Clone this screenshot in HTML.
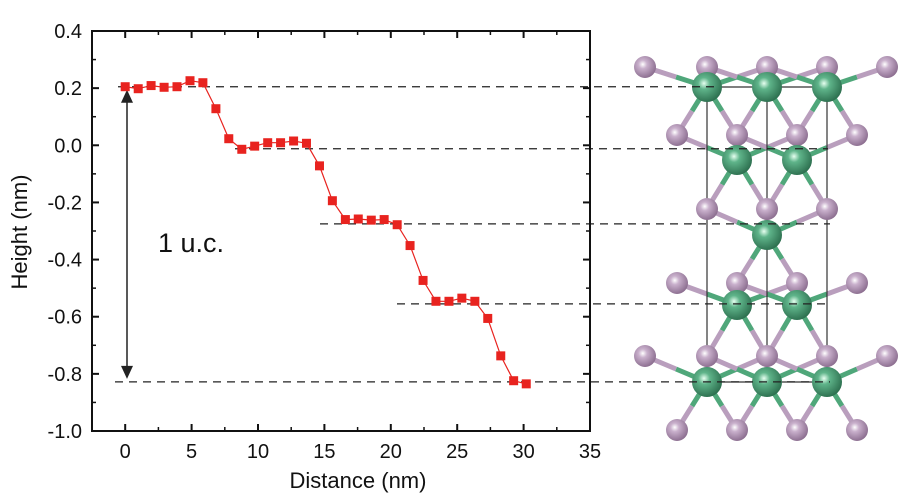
<!DOCTYPE html>
<html><head><meta charset="utf-8"><style>
html,body{margin:0;padding:0;background:#fff;}
svg{display:block;font-family:"Liberation Sans",Arial,sans-serif;}
</style></head><body>
<svg id="chart" width="902" height="497" viewBox="0 0 902 497" xmlns="http://www.w3.org/2000/svg">
<g id="structure"></g>
<g id="dashes"></g>
<g id="axes"></g>
<g id="series"></g>
<text x="158" y="252" font-size="27" fill="#111">1 u.c.</text>
<text x="358" y="488" font-size="22" text-anchor="middle" fill="#111">Distance (nm)</text>
<text transform="translate(27,232) rotate(-90)" font-size="22" text-anchor="middle" fill="#111">Height (nm)</text>
</svg>
<script>
const distances = [0,0.98,1.95,2.93,3.9,4.88,5.85,6.83,7.8,8.78,9.75,10.73,11.7,12.68,13.65,14.63,15.6,16.58,17.55,18.53,19.5,20.48,21.45,22.43,23.4,24.38,25.35,26.33,27.3,28.28,29.25,30.2];
const heights = [0.205,0.198,0.209,0.203,0.205,0.226,0.219,0.128,0.023,-0.014,-0.003,0.009,0.009,0.015,0.007,-0.072,-0.194,-0.26,-0.258,-0.262,-0.26,-0.278,-0.351,-0.473,-0.546,-0.546,-0.535,-0.546,-0.606,-0.737,-0.824,-0.835];
const xTicks = [0,5,10,15,20,25,30,35];
const yTicks = [0.4,0.2,0.0,-0.2,-0.4,-0.6,-0.8,-1.0];
const yTickLabels = ["0.4","0.2","0.0","-0.2","-0.4","-0.6","-0.8","-1.0"];
const stepLevels = [0.205,-0.012,-0.275,-0.555,-0.828];

const NS="http://www.w3.org/2000/svg";
const X0=92,X1=590,Y0=31,Y1=431;
const xMin=-2.5,xMax=35,yMin=-1.0,yMax=0.4;
function sx(v){return X0+(v-xMin)/(xMax-xMin)*(X1-X0);}
function sy(v){return Y1-(v-yMin)/(yMax-yMin)*(Y1-Y0);}
function mk(tag,attrs,parent){const e=document.createElementNS(NS,tag);for(const k in attrs)e.setAttribute(k,attrs[k]);parent.appendChild(e);return e;}

// structure
const st=document.getElementById('structure');
const rows=[
 {y:67,t:'S',xs:[645,707,767,827,887]},
 {y:87,t:'M',xs:[707,767,827]},
 {y:135,t:'S',xs:[677,737,797,857]},
 {y:160,t:'M',xs:[737,797]},
 {y:209,t:'S',xs:[707,767,827]},
 {y:235,t:'M',xs:[767]},
 {y:283,t:'S',xs:[677,737,797,857]},
 {y:305,t:'M',xs:[737,797]},
 {y:356,t:'S',xs:[645,707,767,827,887]},
 {y:382,t:'M',xs:[707,767,827]},
 {y:430,t:'S',xs:[677,737,797,857]}
];
const atoms=[];rows.forEach(r=>r.xs.forEach(x=>atoms.push({x:x,y:r.y,t:r.t})));
const defs=mk('defs',{},st);
const gS=mk('radialGradient',{id:'gS',cx:'0.4',cy:'0.38',r:'0.65'},defs);
mk('stop',{offset:'0','stop-color':'#ffffff'},gS);mk('stop',{offset:'0.3','stop-color':'#c9b0cc'},gS);mk('stop',{offset:'1','stop-color':'#8a6c8e'},gS);
const gM=mk('radialGradient',{id:'gM',cx:'0.4',cy:'0.38',r:'0.65'},defs);
mk('stop',{offset:'0','stop-color':'#e6fff0'},gM);mk('stop',{offset:'0.3','stop-color':'#5fb48a'},gM);mk('stop',{offset:'1','stop-color':'#2c6e4e'},gM);
// bonds
atoms.filter(a=>a.t==='M').forEach(m=>{
 atoms.filter(a=>a.t==='S').forEach(s=>{
  const d=Math.hypot(s.x-m.x,s.y-m.y);
  if(d<80 && Math.abs(s.y-m.y)<80){
   const mx=(s.x+m.x)/2,my=(s.y+m.y)/2;
   mk('line',{x1:m.x,y1:m.y,x2:mx,y2:my,stroke:'#4fa77a','stroke-width':5},st);
   mk('line',{x1:mx,y1:my,x2:s.x,y2:s.y,stroke:'#b99ebd','stroke-width':5},st);
  }
 });
});
// cell box
[707,767,827].forEach(x=>mk('line',{x1:x,y1:87,x2:x,y2:382,stroke:'#333','stroke-width':1.2},st));
mk('line',{x1:707,y1:87,x2:827,y2:87,stroke:'#333','stroke-width':1.2},st);
mk('line',{x1:707,y1:382,x2:827,y2:382,stroke:'#333','stroke-width':1.2},st);
atoms.filter(a=>a.t==='S').forEach(a=>mk('circle',{cx:a.x,cy:a.y,r:11,fill:'url(#gS)'},st));
atoms.filter(a=>a.t==='M').forEach(a=>mk('circle',{cx:a.x,cy:a.y,r:15,fill:'url(#gM)'},st));

// dashed lines
const dg=document.getElementById('dashes');
const dashStarts=[118,235,320,397,115];
const dashEnds=[718,828,830,830,830];
stepLevels.forEach((v,i)=>{
 const l=mk('line',{x1:dashStarts[i],y1:sy(v),x2:dashEnds[i],y2:sy(v),stroke:'#222','stroke-width':1.3,'stroke-dasharray':'8,6'},dg);
 
 
});

// axes
const ax=document.getElementById('axes');
mk('rect',{x:X0,y:Y0,width:X1-X0,height:Y1-Y0,fill:'none',stroke:'#111','stroke-width':2},ax);
xTicks.forEach((v,i)=>{
 const x=sx(v);
 mk('line',{x1:x,y1:Y1,x2:x,y2:Y1-7,stroke:'#111','stroke-width':2},ax);
 mk('line',{x1:x,y1:Y0,x2:x,y2:Y0+7,stroke:'#111','stroke-width':2},ax);
 if(i<xTicks.length-1){const xm=sx(v+2.5);
  mk('line',{x1:xm,y1:Y1,x2:xm,y2:Y1-4,stroke:'#111','stroke-width':1.5},ax);
  mk('line',{x1:xm,y1:Y0,x2:xm,y2:Y0+4,stroke:'#111','stroke-width':1.5},ax);}
 const t=mk('text',{x:x,y:Y1+27,'font-size':20,'text-anchor':'middle',fill:'#111'},ax);t.textContent=String(v);
 
 
});
{const xm=sx(-2.5+2.5-2.5);}
yTicks.forEach((v,i)=>{
 const y=sy(v);
 mk('line',{x1:X0,y1:y,x2:X0+7,y2:y,stroke:'#111','stroke-width':2},ax);
 mk('line',{x1:X1,y1:y,x2:X1-7,y2:y,stroke:'#111','stroke-width':2},ax);
 if(i<yTicks.length-1){const ym=sy(v-0.1);
  mk('line',{x1:X0,y1:ym,x2:X0+4,y2:ym,stroke:'#111','stroke-width':1.5},ax);
  mk('line',{x1:X1,y1:ym,x2:X1-4,y2:ym,stroke:'#111','stroke-width':1.5},ax);}
 const t=mk('text',{x:X0-10,y:y+7,'font-size':20,'text-anchor':'end',fill:'#111'},ax);t.textContent=yTickLabels[i];
 
 
});
// arrow
mk('line',{x1:127,y1:sy(stepLevels[0])+14,x2:127,y2:sy(stepLevels[4])-14,stroke:'#222','stroke-width':1.5},ax);
mk('polygon',{points:`121,${sy(stepLevels[0])+16} 127,${sy(stepLevels[0])+3} 133,${sy(stepLevels[0])+16}`,fill:'#222'},ax);
mk('polygon',{points:`121,${sy(stepLevels[4])-16} 127,${sy(stepLevels[4])-3} 133,${sy(stepLevels[4])-16}`,fill:'#222'},ax);

// series
const sg=document.getElementById('series');
const pts=distances.map((d,i)=>sx(d).toFixed(1)+','+sy(heights[i]).toFixed(1)).join(' ');
const pl=mk('polyline',{points:pts,fill:'none',stroke:'#e8231f','stroke-width':1.2},sg);


distances.forEach((d,i)=>{
 const r=mk('rect',{x:sx(d)-4.5,y:sy(heights[i])-4.5,width:9,height:9,fill:'#e8231f'},sg);
 
 
});
</script>
</body></html>
